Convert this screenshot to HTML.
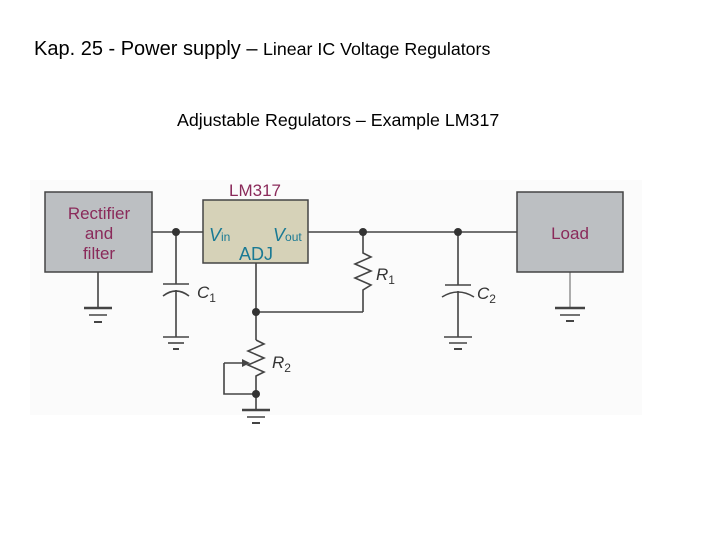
<!DOCTYPE html>
<html><head><style>
body{margin:0;width:720px;height:540px;background:#fff;overflow:hidden;font-family:"Liberation Sans",sans-serif;}
</style></head><body>
<svg width="720" height="540" viewBox="0 0 720 540" xmlns="http://www.w3.org/2000/svg" font-family="Liberation Sans, sans-serif">
<text x="34" y="55" font-size="20" fill="#000">Kap. 25 - Power supply – <tspan font-size="17.8">Linear IC Voltage Regulators</tspan></text>
<text x="177" y="126" font-size="17.8" fill="#000">Adjustable Regulators – Example LM317</text>
<rect x="30" y="180" width="612" height="235" fill="#fbfbfb"/>
<g stroke="#444" stroke-width="1.6" fill="none">
<line x1="152" y1="232" x2="203" y2="232"/>
<line x1="308" y1="232" x2="517" y2="232"/>
<line x1="98" y1="272" x2="98" y2="308"/>
<line x1="84" y1="308" x2="112" y2="308" stroke-width="2.5"/>
<line x1="89" y1="315" x2="107" y2="315"/>
<line x1="94" y1="322" x2="102" y2="322" stroke-width="2"/>
<line x1="176" y1="232" x2="176" y2="284"/>
<line x1="163" y1="284" x2="189" y2="284"/>
<path d="M163 296 Q176 286 189 296"/>
<line x1="176" y1="290" x2="176" y2="337"/>
<line x1="163" y1="337" x2="189" y2="337"/>
<line x1="168" y1="343" x2="184" y2="343"/>
<line x1="173" y1="349" x2="179" y2="349" stroke-width="2"/>
<line x1="256" y1="263" x2="256" y2="340"/>
<line x1="256" y1="312" x2="363" y2="312"/>
<line x1="363" y1="312" x2="363" y2="292"/>
<path d="M363 232 V253 L371 257 L355 264 L371 271 L355 278 L371 285 L363 290 V292"/>
<path d="M256 340 L264 344 L248 351 L264 358 L248 365 L264 372 L256 376 V410"/>
<path d="M224 363 H246" />
<path d="M224 363 V394 H256"/>
<line x1="242" y1="410" x2="270" y2="410" stroke-width="2.5"/>
<line x1="247" y1="417" x2="265" y2="417"/>
<line x1="252" y1="423" x2="260" y2="423" stroke-width="2"/>
<line x1="458" y1="232" x2="458" y2="285"/>
<line x1="445" y1="285" x2="471" y2="285"/>
<path d="M442 297 Q458 287 474 297"/>
<line x1="458" y1="291" x2="458" y2="337"/>
<line x1="444" y1="337" x2="472" y2="337"/>
<line x1="449" y1="343" x2="467" y2="343"/>
<line x1="454" y1="349" x2="462" y2="349" stroke-width="2"/>
</g>
<polygon points="250,363 242,359 242,367" fill="#444"/>
<g stroke="#999" stroke-width="1.6">
<line x1="570" y1="272" x2="570" y2="308"/>
</g>
<g stroke="#444" stroke-width="1.6">
<line x1="555" y1="308" x2="585" y2="308" stroke-width="2.5"/>
<line x1="560" y1="315" x2="580" y2="315"/>
<line x1="566" y1="321" x2="574" y2="321" stroke-width="2"/>
</g>
<g fill="#333">
<circle cx="176" cy="232" r="4"/><circle cx="363" cy="232" r="4"/><circle cx="458" cy="232" r="4"/>
<circle cx="256" cy="312" r="4"/><circle cx="256" cy="394" r="4"/>
</g>
<rect x="45" y="192" width="107" height="80" fill="#bcbfc2" stroke="#444" stroke-width="1.5"/>
<rect x="517" y="192" width="106" height="80" fill="#bcbfc2" stroke="#444" stroke-width="1.5"/>
<rect x="203" y="200" width="105" height="63" fill="#d6d2b8" stroke="#444" stroke-width="1.5"/>
<g fill="#8a2a5a" font-size="17" text-anchor="middle">
<text x="99" y="219">Rectifier</text><text x="99" y="239">and</text><text x="99" y="259">filter</text>
<text x="570" y="239">Load</text>
<text x="255" y="196">LM317</text>
</g>
<g fill="#1a7a94" font-size="18">
<text x="209" y="241" font-style="italic">V<tspan font-size="12" font-style="normal">in</tspan></text>
<text x="273" y="241" font-style="italic">V<tspan font-size="12" font-style="normal">out</tspan></text>
<text x="239" y="260">ADJ</text>
</g>
<g fill="#333" font-size="17" font-style="italic">
<text x="197" y="298">C<tspan font-size="12" font-style="normal" dy="4">1</tspan></text>
<text x="376" y="280">R<tspan font-size="12" font-style="normal" dy="4">1</tspan></text>
<text x="477" y="299">C<tspan font-size="12" font-style="normal" dy="4">2</tspan></text>
<text x="272" y="368">R<tspan font-size="12" font-style="normal" dy="4">2</tspan></text>
</g>
</svg>
</body></html>
